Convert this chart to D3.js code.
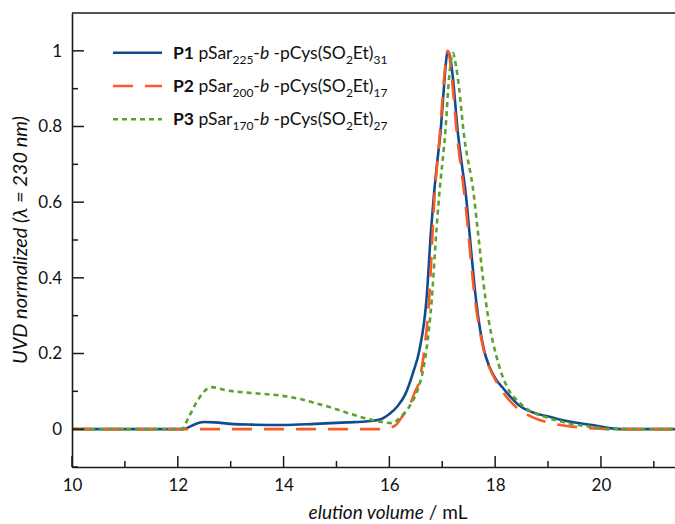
<!DOCTYPE html>
<html><head><meta charset="utf-8">
<script src="https://cdn.jsdelivr.net/npm/d3@7"></script>
<style>body{margin:0;background:#fff}svg{display:block;font-family:Lato,"Open Sans",sans-serif}</style>
</head><body><svg id="c" width="675" height="524"></svg>
<script>
// elution volume (mL), normalized UVD
const p1 = [[10,0],[12.1,0],[12.25,0.008],[12.4,0.017],[12.5,0.019],[12.7,0.018],[13.0,0.014],[13.4,0.012],[14.0,0.011],[14.6,0.014],[15.2,0.018],[15.6,0.021],[15.85,0.027],[16.0,0.04],[16.15,0.06],[16.3,0.092],[16.45,0.15],[16.57,0.21],[16.7,0.34],[16.79,0.53],[16.84,0.615],[16.9,0.7],[16.97,0.79],[17.03,0.9],[17.07,0.97],[17.1,0.998],[17.14,0.99],[17.2,0.93],[17.29,0.79],[17.37,0.7],[17.45,0.615],[17.51,0.526],[17.64,0.34],[17.79,0.209],[17.89,0.165],[18.0,0.135],[18.14,0.11],[18.26,0.09],[18.45,0.063],[18.7,0.045],[19.05,0.032],[19.4,0.02],[19.83,0.011],[20.2,0.002],[20.4,0],[21.4,0]];
const p2 = [[10,0],[15.9,0],[16.0,0.003],[16.13,0.012],[16.25,0.035],[16.38,0.062],[16.47,0.094],[16.57,0.13],[16.66,0.209],[16.75,0.34],[16.85,0.606],[16.96,0.79],[17.03,0.92],[17.07,0.975],[17.1,1.0],[17.13,0.99],[17.18,0.93],[17.27,0.79],[17.43,0.606],[17.62,0.341],[17.8,0.2],[17.95,0.145],[18.08,0.112],[18.39,0.059],[18.7,0.032],[18.96,0.019],[19.32,0.009],[19.58,0.005],[20.0,0.001],[20.2,0],[21.4,0]];
const p3 = [[10,0],[12.07,0],[12.2,0.03],[12.35,0.07],[12.5,0.1],[12.64,0.111],[12.9,0.103],[13.36,0.096],[13.98,0.088],[14.3,0.08],[14.62,0.068],[14.95,0.055],[15.25,0.041],[15.62,0.026],[15.9,0.018],[16.05,0.016],[16.2,0.03],[16.4,0.065],[16.55,0.11],[16.65,0.165],[16.7,0.209],[16.8,0.341],[16.89,0.526],[16.94,0.615],[17.06,0.79],[17.13,0.93],[17.2,0.994],[17.26,0.96],[17.32,0.9],[17.4,0.79],[17.6,0.615],[17.67,0.526],[17.82,0.341],[18.08,0.165],[18.26,0.103],[18.42,0.075],[18.64,0.05],[19.0,0.03],[19.4,0.015],[19.96,0.004],[20.2,0],[21.4,0]];
const xTicks = [10,12,14,16,18,20];
const xMinor = [11,13,15,17,19,21];
const yTicks = [0,0.2,0.4,0.6,0.8,1];
const yMinor = [-0.1,0.1,0.3,0.5,0.7,0.9];
const names = [
  {data:p1, color:"#134c8e", dash:null, bold:"P1", n:"225", m:"31"},
  {data:p2, color:"#fb5a26", dash:"20,12", bold:"P2", n:"200", m:"17"},
  {data:p3, color:"#5fa12e", dash:"5,4", bold:"P3", n:"170", m:"27"}
];

const svg = d3.select("#c");
const x = d3.scaleLinear().domain([10,21.4]).range([72,675]);
const y = d3.scaleLinear().domain([-0.1,1.1]).range([467,13]);
const axisCol = "#1a1a1a";

// frame
svg.append("line").attr("x1",72).attr("x2",675).attr("y1",y(1.1)).attr("y2",y(1.1)).attr("stroke",axisCol).attr("stroke-width",1.6);

const line = d3.line().x(d=>x(d[0])).y(d=>y(d[1])).curve(d3.curveMonotoneX);
names.forEach(s=>{
  svg.append("path").attr("d",line(s.data)).attr("fill","none").attr("stroke",s.color)
    .attr("stroke-width",2.6).attr("stroke-dasharray",s.dash).attr("stroke-linejoin","round");
});

// axes
const gx = svg.append("g").attr("transform",`translate(0,${y(-0.1)})`)
  .call(d3.axisBottom(x).tickValues(xTicks).tickSize(0).tickPadding(12).tickFormat(d3.format("d")));
gx.select(".domain").attr("stroke",axisCol).attr("stroke-width",1.6);
gx.selectAll("text").attr("font-size",17).attr("fill","#111").attr("font-family","Lato");
xTicks.forEach(v=>svg.append("line").attr("x1",x(v)).attr("x2",x(v)).attr("y1",y(-0.1)).attr("y2",y(-0.1)-11).attr("stroke",axisCol).attr("stroke-width",1.5));
xMinor.forEach(v=>svg.append("line").attr("x1",x(v)).attr("x2",x(v)).attr("y1",y(-0.1)).attr("y2",y(-0.1)-6).attr("stroke",axisCol).attr("stroke-width",1.5));

const gy = svg.append("g").attr("transform","translate(72,0)")
  .call(d3.axisLeft(y).tickValues(yTicks).tickSize(0).tickPadding(10).tickFormat(d=>d3.format("")(+d.toFixed(1))));
gy.select(".domain").attr("stroke",axisCol).attr("stroke-width",1.6);
gy.selectAll("text").attr("font-size",17).attr("fill","#111").attr("font-family","Lato");
yTicks.forEach(v=>svg.append("line").attr("x1",72).attr("x2",84).attr("y1",y(v)).attr("y2",y(v)).attr("stroke",axisCol).attr("stroke-width",1.5));
yMinor.forEach(v=>svg.append("line").attr("x1",72).attr("x2",78).attr("y1",y(v)).attr("y2",y(v)).attr("stroke",axisCol).attr("stroke-width",1.5));

// axis labels
const xl = svg.append("text").attr("x",388).attr("y",519).attr("text-anchor","middle").attr("font-size",19).attr("fill","#111");
xl.append("tspan").attr("font-style","italic").text("elution volume");
xl.append("tspan").text(" / mL");
svg.append("text").attr("transform","translate(27,240) rotate(-90)").attr("text-anchor","middle")
  .attr("font-size",20).attr("font-style","italic").attr("fill","#111").text("UVD normalized (λ = 230 nm)");

// legend
const ly = [52.7,86,119.3];
names.forEach((s,i)=>{
  svg.append("line").attr("x1",113).attr("x2",162).attr("y1",ly[i]).attr("y2",ly[i])
    .attr("stroke",s.color).attr("stroke-width",2.6).attr("stroke-dasharray",s.dash);
  const t = svg.append("text").attr("x",173).attr("y",ly[i]+6).attr("font-size",17.5).attr("fill","#111");
  t.append("tspan").attr("font-weight","bold").text(s.bold);
  t.append("tspan").text(" pSar");
  t.append("tspan").attr("font-size",12).attr("dy",5).text(s.n);
  t.append("tspan").attr("dy",-5).text("-");
  t.append("tspan").attr("font-style","italic").text("b");
  t.append("tspan").text(" -pCys(SO");
  t.append("tspan").attr("font-size",12).attr("dy",5).text("2");
  t.append("tspan").attr("dy",-5).text("Et)");
  t.append("tspan").attr("font-size",12).attr("dy",5).text(s.m);
});
</script></body></html>
